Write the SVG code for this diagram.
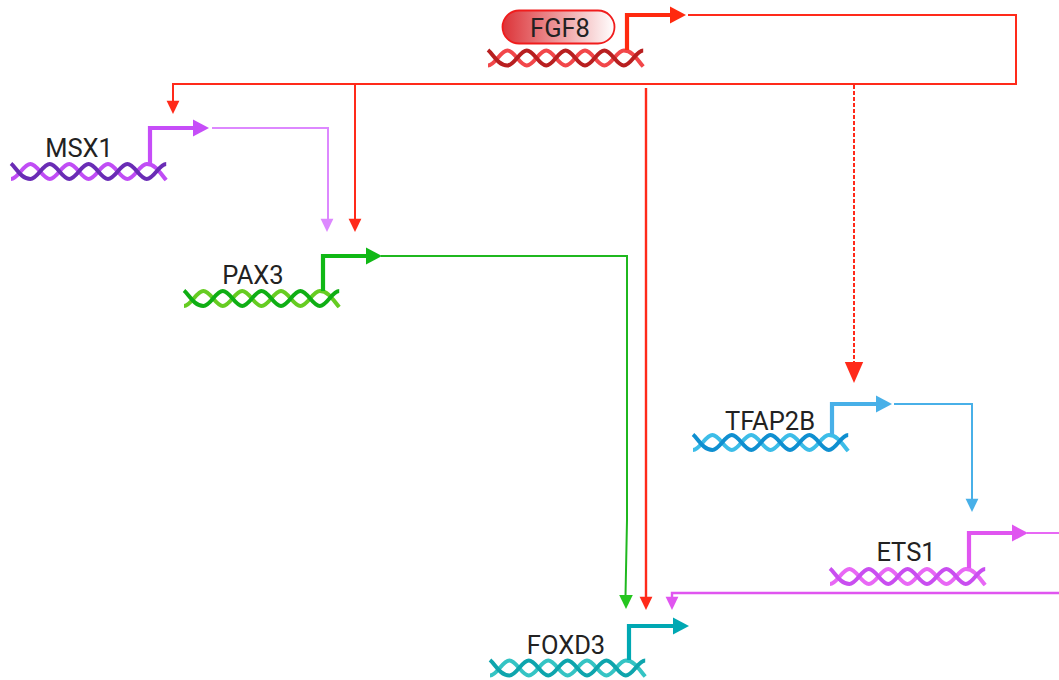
<svg xmlns="http://www.w3.org/2000/svg" width="1059" height="680" viewBox="0 0 1059 680">
<style>
text{font-family:Roboto,"Liberation Sans",sans-serif;font-size:25.500px;fill:#222;text-anchor:middle}
.s{fill:none;stroke-width:4}
.p{fill:none;stroke-width:4.200}
.l{fill:none;stroke-width:2}
.red{stroke:#ff2a1a}.redh{fill:#ff2a1a}
</style>
<defs>
<linearGradient id="g" x1="0" x2="1" y1="0" y2="0"><stop offset="0" stop-color="#dc3338"/><stop offset="1" stop-color="#ffffff"/></linearGradient>
<path id="a" d="M0,-8C5,-4 10,7.500 19.400,7.500c7,0 12.400,-15 19.400,-15c7,0 12.400,15 19.400,15c7,0 12.400,-15 19.400,-15c7,0 12.400,15 19.400,15c7,0 12.400,-15 19.400,-15c7,0 12.400,15 19.400,15c7,0 12.400,-15 19.400,-15"/>
<path id="b" d="M0,7.500c7,0 12.400,-15 19.400,-15c7,0 12.400,15 19.400,15c7,0 12.400,-15 19.400,-15c7,0 12.400,15 19.400,15c7,0 12.400,-15 19.400,-15c7,0 12.400,15 19.400,15c7,0 12.400,-15 19.400,-15c9,0 14,10 19.400,16"/>
<path id="ah" d="M-15,-8.500L1,0L-15,8.500Z"/>
<path id="dh" d="M-8,-14L8,-14L0,0Z"/>
</defs>
<g id="connectors">
<path class="l red" d="M688,15H1016V84H173V104"/>
<path class="l red" d="M355,84V220"/>
<path class="l red" style="stroke-width:2.400" d="M646,88V597"/>
<path class="l red" stroke-dasharray="4 2" d="M854,85V364"/>
<path class="l" stroke="#dd88ff" d="M212,128H328V219"/>
<path class="l" stroke="#1fb81f" d="M381,256H627V520L625.500,596"/>
<path class="l" stroke="#48b0e8" d="M894,404H972V499"/>
<path class="l" stroke="#e868f5" d="M1027,533H1059"/>
<path class="l" stroke="#e055f0" style="stroke-width:2.400" d="M1059,593H672V598"/>
<use href="#dh" class="redh" transform="translate(173,114) scale(.8,.95)"/>
<use href="#dh" class="redh" transform="translate(355,232) scale(.8,.95)"/>
<use href="#dh" class="redh" transform="translate(646,610) scale(.8,.95)"/>
<use href="#dh" class="redh" transform="translate(854,383) scale(1.150,1.500)"/>
<use href="#dh" fill="#dd88ff" transform="translate(327,232) scale(.8,.95)"/>
<use href="#dh" fill="#25c61f" transform="translate(626,609) scale(.85,1)"/>
<use href="#dh" fill="#48b0e8" transform="translate(972,512) scale(.8,.95)"/>
<use href="#dh" fill="#e055f0" transform="translate(672,610) scale(.8,.95)"/>
</g>
<g id="FGF8">
<rect x="502.500" y="10.500" width="112" height="33" rx="16.500" fill="url(#g)" stroke="#f01c1c" stroke-width="1.800"/>
<use href="#b" class="s" stroke="#f2474a" x="488" y="58"/><use href="#a" class="s" stroke="#b81f20" x="488" y="58"/>
<path class="p" stroke="#ff2a0f" d="M627,50V15H672"/><use href="#ah" fill="#ff2a0f" transform="translate(685,15)"/>
<text x="560" y="37">FGF8</text>
</g>
<g id="MSX1">
<use href="#b" class="s" stroke="#c04df5" x="11" y="171.500"/><use href="#a" class="s" stroke="#6a2cb5" x="11" y="171.500"/>
<path class="p" stroke="#c64df8" d="M150,163V128H195"/><use href="#ah" fill="#c64df8" transform="translate(208,128)"/>
<text x="79" y="157">MSX1</text>
</g>
<g id="PAX3">
<use href="#b" class="s" stroke="#66cc22" x="184" y="298.500"/><use href="#a" class="s" stroke="#0fae14" x="184" y="298.500"/>
<path class="p" stroke="#10b815" d="M323,291V256H368"/><use href="#ah" fill="#10b815" transform="translate(381,256)"/>
<text x="253" y="284">PAX3</text>
</g>
<g id="TFAP2B">
<use href="#b" class="s" stroke="#3dbde8" x="693" y="442.500"/><use href="#a" class="s" stroke="#0f8fd0" x="693" y="442.500"/>
<path class="p" stroke="#48b0e8" d="M832,434V404H878"/><use href="#ah" fill="#48b0e8" transform="translate(891,404)"/>
<text x="770" y="430">TFAP2B</text>
</g>
<g id="ETS1">
<use href="#b" class="s" stroke="#e868f5" x="830" y="576.500"/><use href="#a" class="s" stroke="#c94ef0" x="830" y="576.500"/>
<path class="p" stroke="#e055f0" d="M969,568V533H1014"/><use href="#ah" fill="#e055f0" transform="translate(1027,533)"/>
<text x="906" y="561">ETS1</text>
</g>
<g id="FOXD3">
<use href="#b" class="s" stroke="#35c4c4" x="490" y="668"/><use href="#a" class="s" stroke="#0ea5ad" x="490" y="668"/>
<path class="p" stroke="#00a8b3" d="M629,660V626H675"/><use href="#ah" fill="#00a8b3" transform="translate(688,626)"/>
<text x="566" y="654">FOXD3</text>
</g>
</svg>
